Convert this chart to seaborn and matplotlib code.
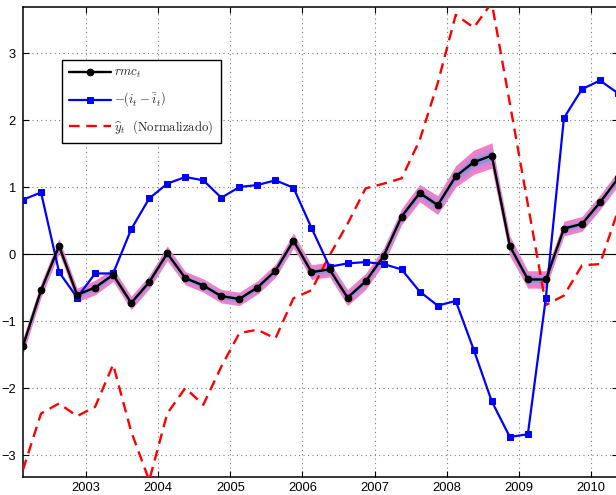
import numpy as np
import pandas as pd
import matplotlib
matplotlib.use("Agg")
import matplotlib.pyplot as plt
import seaborn as sns

# Quarterly observations, 2002Q1 .. 2010Q2
quarters = pd.period_range("2002Q1", "2010Q2", freq="Q")

# real marginal cost
rmc = [-1.37, -0.54, 0.12, -0.61, -0.50, -0.31, -0.73, -0.42,
       0.01, -0.36, -0.47, -0.63, -0.67, -0.50, -0.25, 0.20,
       -0.27, -0.23, -0.65, -0.41, -0.03, 0.56, 0.91, 0.73,
       1.16, 1.37, 1.47, 0.12, -0.38, -0.38, 0.38, 0.45,
       0.77, 1.13]

# half-width of the uncertainty band around rmc
rmc_band = [0.12, 0.11, 0.11, 0.10, 0.11, 0.10, 0.10, 0.10,
            0.11, 0.10, 0.10, 0.10, 0.10, 0.10, 0.10, 0.11,
            0.11, 0.11, 0.12, 0.12, 0.12, 0.12, 0.13, 0.14,
            0.16, 0.18, 0.19, 0.15, 0.13, 0.13, 0.11, 0.11,
            0.11, 0.11]

# negative interest-rate gap
rate_gap = [0.81, 0.92, -0.27, -0.65, -0.29, -0.29, 0.37, 0.83,
            1.05, 1.15, 1.10, 0.84, 1.00, 1.03, 1.10, 0.99,
            0.39, -0.19, -0.14, -0.12, -0.15, -0.23, -0.56, -0.77,
            -0.70, -1.43, -2.20, -2.73, -2.69, -0.65, 2.03, 2.46,
            2.59, 2.40]

# normalized output gap
output_gap = [-3.22, -2.38, -2.23, -2.42, -2.28, -1.65, -2.65, -3.38,
              -2.38, -2.00, -2.25, -1.68, -1.18, -1.13, -1.26, -0.66,
              -0.54, -0.02, 0.45, 0.98, 1.05, 1.13, 1.70, 2.55,
              3.57, 3.38, 3.75, 2.25, 0.74, -0.76, -0.62, -0.17,
              -0.15, 0.65]

labels = [r"$rmc_t$",
          r"$-\left(i_t-\bar{i}_t\right)$",
          r"$\widehat{y}_t\ \ \mathrm{(Normalizado)}$"]
year_ticks = list(range(2003, 2011))
y_ticks = [-3, -2, -1, 0, 1, 2, 3]

# mid-quarter decimal dates
t = np.array([q.year + (q.quarter - 0.5) / 4 for q in quarters])
df = pd.DataFrame({"t": t, "rmc": rmc, "band": rmc_band,
                   "gap": rate_gap, "ygap": output_gap})

sns.set_style("ticks")
plt.rcParams["font.family"] = ["Liberation Sans", "DejaVu Sans"]
plt.rcParams["mathtext.fontset"] = "cm"

fig = plt.figure(figsize=(6.16, 4.95), dpi=100)
ax = fig.add_axes([23 / 616, 18 / 495, 595 / 616, 470 / 495])

# grid and zero line
ax.set_xticks(year_ticks)
ax.set_yticks(y_ticks)
ax.grid(True, which="major", color="#7f7f7f", linestyle=(0, (1, 3)),
        linewidth=0.8)
ax.axhline(0, color="black", linewidth=0.8, zorder=1.5)

# layered uncertainty band around rmc
ax.fill_between(df["t"], df["rmc"] - df["band"], df["rmc"] + df["band"],
                color="#f27fc8", linewidth=0, zorder=2)
ax.fill_between(df["t"], df["rmc"] - 0.65 * df["band"], df["rmc"] + 0.65 * df["band"],
                color="#d088d2", linewidth=0, zorder=2.1)
ax.fill_between(df["t"], df["rmc"] - 0.35 * df["band"], df["rmc"] + 0.35 * df["band"],
                color="#9590da", linewidth=0, zorder=2.2)

sns.lineplot(data=df, x="t", y="ygap", ax=ax, color="#ff0000",
             linewidth=1.7, dashes=False, linestyle=(0, (4.5, 2.8)),
             label=labels[2], zorder=3)
sns.lineplot(data=df, x="t", y="gap", ax=ax, color="#0000ff",
             linewidth=1.6, marker="s", markersize=4.2,
             markeredgecolor="#0000ff", label=labels[1], zorder=4)
sns.lineplot(data=df, x="t", y="rmc", ax=ax, color="black",
             linewidth=1.7, marker="o", markersize=4.8,
             markeredgecolor="black", label=labels[0], zorder=5)

ax.set_xlim(2002.125, 2010.375)
ax.set_ylim(-3.328, 3.687)
ax.set_xlabel("")
ax.set_ylabel("")

ax.tick_params(direction="in", length=4.5, width=0.8, top=True, right=True,
               labelsize=9.3, colors="black")
ax.tick_params(axis="x", pad=3.5)
ax.tick_params(axis="y", pad=5)
for s in ax.spines.values():
    s.set_linewidth(1.1)
    s.set_color("black")
    s.set_visible(True)

handles, labs = ax.get_legend_handles_labels()
order = [labs.index(l) for l in labels]
leg = ax.legend([handles[i] for i in order], [labs[i] for i in order],
                loc="upper left", bbox_to_anchor=((62 - 23) / 595, (477 - 60) / 470),
                borderaxespad=0, fontsize=9.2, frameon=True, fancybox=False,
                edgecolor="black", framealpha=1, handlelength=3.3,
                handletextpad=0.25, labelspacing=0.78, borderpad=0.55)
leg.get_frame().set_linewidth(1.0)

fig.savefig("out.png", dpi=100)
